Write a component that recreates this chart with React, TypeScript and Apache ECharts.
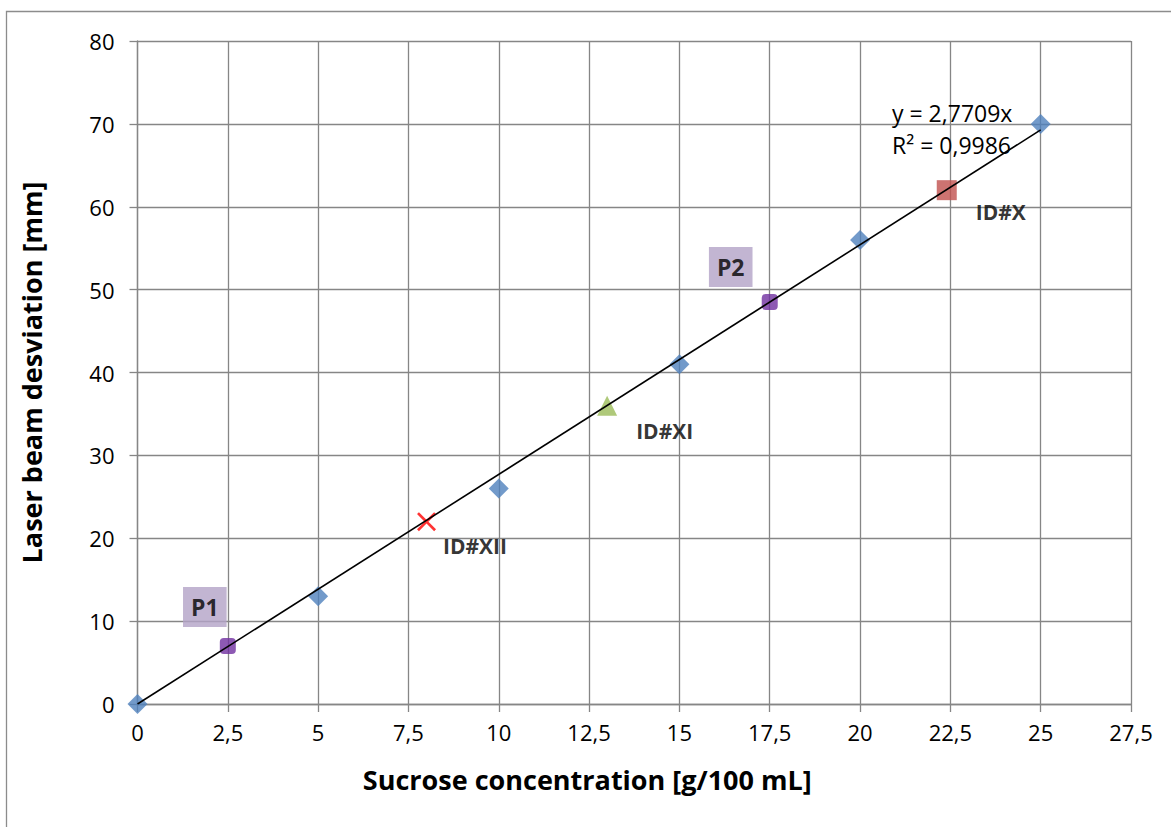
import React, { useEffect, useRef } from "react";
import * as echarts from "echarts";

const xTicks = [0, 2.5, 5, 7.5, 10, 12.5, 15, 17.5, 20, 22.5, 25, 27.5];
const yTicks = [0, 10, 20, 30, 40, 50, 60, 70, 80];

const calibration: [number, number][] = [
  [0, 0],
  [5, 13],
  [10, 26],
  [15, 41],
  [20, 56],
  [25, 70],
];
const pointsP: [number, number, string][] = [
  [2.5, 7, "P1"],
  [17.5, 48.5, "P2"],
];
const sampleX: [number, number][] = [[22.4, 62]];
const sampleXI: [number, number][] = [[13, 36]];
const sampleXII: [number, number][] = [[8, 22]];

const trendSlope = 2.7709;
const trendR2 = "0,9986";
const trendRange = [0, 25];

const fmt = (v: number) => String(v).replace(".", ",");

const FONT = "'Open Sans', 'Noto Sans', sans-serif";

const crossPath =
  "path://M0,1 L1,0 L5,4 L9,0 L10,1 L6,5 L10,9 L9,10 L5,6 L1,10 L0,9 L4,5 Z";

export default function App() {
  const ref = useRef<HTMLDivElement>(null);
  useEffect(() => {
    document.body.style.margin = "0";
    const chart = echarts.init(ref.current!, null, { renderer: "svg" });
    const gray = "#868686";
    const idLabel = (text: string, dx: number, dy: number) => ({
      show: true,
      formatter: text,
      position: "right",
      offset: [dx, dy],
      color: "#000",
      fontFamily: FONT,
      fontWeight: "bold",
      fontSize: 21,
    });
    chart.setOption({
      animation: false,
      backgroundColor: "#fff",
      grid: { left: 137.5, top: 41, right: 40, bottom: 123, containLabel: false },
      xAxis: {
        type: "value",
        min: 0,
        max: 27.5,
        interval: 2.5,
        name: "Sucrose concentration [g/100 mL]",
        nameLocation: "middle",
        nameGap: 62,
        nameTextStyle: {
          fontFamily: FONT,
          fontWeight: "bold",
          fontSize: 27,
          color: "#000",
          padding: [0, 94, 0, 0],
        },
        axisLine: { show: true, lineStyle: { color: gray, width: 1.3 } },
        axisTick: { show: true, length: 8, lineStyle: { color: gray, width: 1.3 } },
        axisLabel: {
          formatter: (v: number) => fmt(v),
          fontFamily: FONT,
          fontSize: 22,
          color: "#000",
          margin: 17,
          customValues: xTicks,
        },
        splitLine: { show: true, lineStyle: { color: gray, width: 1.3 } },
      },
      yAxis: {
        type: "value",
        min: 0,
        max: 80,
        interval: 10,
        name: "Laser beam desviation [mm]",
        nameLocation: "middle",
        nameGap: 93,
        nameTextStyle: { fontFamily: FONT, fontWeight: "bold", fontSize: 27, color: "#000" },
        axisLine: { show: true, lineStyle: { color: gray, width: 1.3 } },
        axisTick: { show: true, length: 8, lineStyle: { color: gray, width: 1.3 } },
        axisLabel: {
          formatter: (v: number) => fmt(v),
          fontFamily: FONT,
          fontSize: 22,
          color: "#000",
          margin: 23,
          customValues: yTicks,
        },
        splitLine: { show: true, lineStyle: { color: gray, width: 1.3 } },
      },
      series: [
        {
          type: "line",
          data: trendRange.map((x) => [x, x * trendSlope]),
          symbol: "none",
          lineStyle: { color: "#000", width: 1.6 },
          z: 3,
        },
        {
          type: "scatter",
          data: calibration,
          symbol: "diamond",
          symbolSize: 20,
          itemStyle: { color: "#4f81bd" },
          z: 2,
        },
        {
          type: "scatter",
          data: pointsP.map((p) => ({
            value: [p[0], p[1]],
            label: {
              show: true,
              formatter: p[2],
              position: "inside",
              offset: p[2] === "P1" ? [-23, -39] : [-39, -35],
              backgroundColor: "#b3a2c7",
              padding: [9, 8, 8, 8],
              color: "#000",
              fontFamily: FONT,
              fontWeight: "bold",
              fontSize: 23,
            },
          })),
          symbol: "roundRect",
          symbolSize: 16,
          itemStyle: { color: "#7030a0" },
          z: 2,
        },
        {
          type: "scatter",
          data: sampleX,
          symbol: "rect",
          symbolSize: 20,
          itemStyle: { color: "#c0504d" },
          label: idLabel("ID#X", 14, 22),
          z: 2,
        },
        {
          type: "scatter",
          data: sampleXI,
          symbol: "triangle",
          symbolSize: 20,
          itemStyle: { color: "#9bbb59" },
          label: idLabel("ID#XI", 14, 25),
          z: 2,
        },
        {
          type: "scatter",
          data: sampleXII,
          symbol: crossPath,
          symbolSize: 19,
          itemStyle: { color: "#ff0000" },
          label: idLabel("ID#XII", 2, 24),
          z: 2,
        },
      ],
      graphic: [
        {
          type: "rect",
          shape: { x: 6.5, y: 11.5, width: 1300, height: 1000 },
          style: { fill: "none", stroke: "#8c8c8c", lineWidth: 1.3 },
          silent: true,
          z: -1,
        },
        {
          type: "text",
          left: 892,
          top: 97,
          style: {
            text: "y = " + fmt(trendSlope) + "x\nR² = " + trendR2,
            fontFamily: FONT,
            fontSize: 23,
            lineHeight: 32,
            fill: "#000",
          },
          z: 10,
        },
      ],
    });
    return () => chart.dispose();
  }, []);
  return (
    <div
      ref={ref}
      style={{ position: "absolute", left: 0, top: 0, width: 1171, height: 827 }}
    />
  );
}
